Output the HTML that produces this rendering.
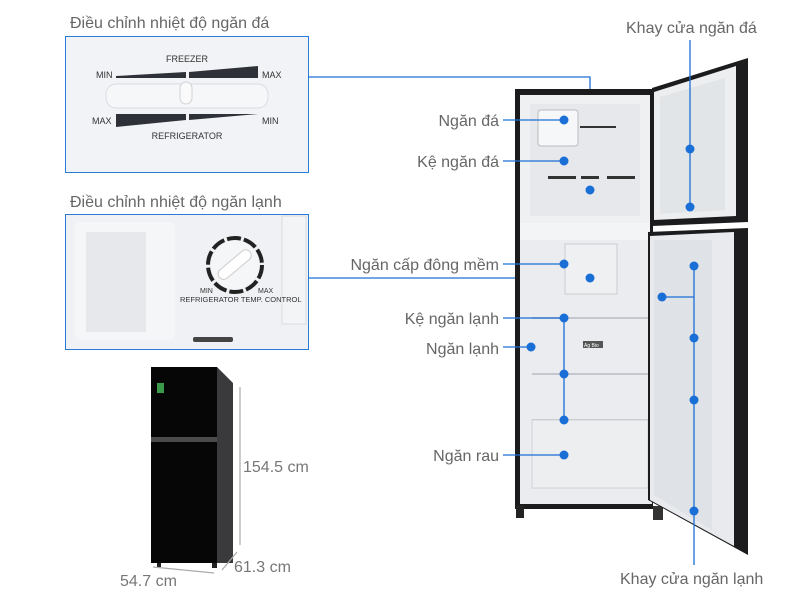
<!DOCTYPE html>
<html><head><meta charset="utf-8"><style>
html,body{margin:0;padding:0;background:#fff;width:800px;height:600px;overflow:hidden}
svg text{font-family:"Liberation Sans","Noto Sans CJK SC",sans-serif}
</style></head><body>
<svg width="800" height="600" viewBox="0 0 800 600" xmlns="http://www.w3.org/2000/svg">
<!-- Panel 1 -->
<text x="70" y="28" font-size="16" fill="#666">Điều chỉnh nhiệt độ ngăn đá</text>
<rect x="65.5" y="36.5" width="243" height="136" fill="#f1f3f6" stroke="#2a7bd6"/>
<text x="187" y="62" font-size="9" fill="#333" text-anchor="middle">FREEZER</text>
<text x="96" y="78" font-size="9" fill="#333">MIN</text>
<text x="262" y="78" font-size="9" fill="#333">MAX</text>
<polygon points="116,76 186,72 186,78 116,78" fill="#2e3138"/>
<polygon points="189,72 258,66 258,78 189,78" fill="#2e3138"/>
<rect x="106" y="84" width="162" height="24" rx="10" fill="#f6f7f8" stroke="#d8dbe0"/>
<rect x="180" y="82" width="12" height="22" rx="6" fill="#fafafa" stroke="#cfd2d6"/>
<text x="92" y="124" font-size="9" fill="#333">MAX</text>
<text x="262" y="124" font-size="9" fill="#333">MIN</text>
<polygon points="116,114 186,114 186,120 116,127" fill="#2e3138"/>
<polygon points="189,114 258,114 189,120" fill="#2e3138"/>
<text x="187" y="139" font-size="9" fill="#333" text-anchor="middle">REFRIGERATOR</text>
<!-- Panel 2 -->
<text x="70" y="207" font-size="16" fill="#666">Điều chỉnh nhiệt độ ngăn lạnh</text>
<rect x="65.5" y="214.5" width="243" height="135" fill="#eff1f4" stroke="#2a7bd6"/>
<rect x="75" y="222" width="100" height="118" rx="6" fill="#f5f6f7"/>
<rect x="86" y="232" width="60" height="100" fill="#e6e8eb"/>
<rect x="193" y="337" width="40" height="5" rx="2" fill="#444"/>
<rect x="282" y="216" width="24" height="108" fill="#f3f4f6" stroke="#d8dbe0"/>
<circle cx="235" cy="265" r="27" fill="none" stroke="#222" stroke-width="4" stroke-dasharray="14 3"/>
<circle cx="235" cy="265" r="24" fill="#f5f6f7"/>
<rect x="215" y="259" width="40" height="11" rx="5.5" fill="#fff" stroke="#ccc" transform="rotate(-40 235 265)"/>
<text x="200" y="293" font-size="7" fill="#333">MIN</text>
<text x="258" y="293" font-size="7" fill="#333">MAX</text>
<text x="180" y="302" font-size="7.5" fill="#333">REFRIGERATOR  TEMP. CONTROL</text>
<!-- Connectors from panels -->
<g stroke="#1a6fd6" stroke-width="1.3" fill="none">
<polyline points="308,77 590,77 590,190"/>
<polyline points="308,278 590,278"/>
</g>
<!-- Big fridge -->
<rect x="515" y="89" width="138" height="420" fill="#1b1b1d"/>
<rect x="516" y="505" width="8" height="13" fill="#222"/>
<rect x="653" y="506" width="10" height="14" fill="#333"/>
<rect x="520" y="95" width="130" height="128" fill="#eef0f2"/>
<rect x="530" y="104" width="110" height="112" fill="#e6e8eb"/>
<rect x="538" y="110" width="40" height="36" rx="3" fill="#f6f7f8" stroke="#bbb"/>
<g fill="#333"><rect x="548" y="176" width="28" height="3"/><rect x="581" y="176" width="18" height="3"/><rect x="607" y="176" width="28" height="3"/><rect x="580" y="126" width="36" height="2"/></g>
<rect x="520" y="223" width="130" height="17" fill="#f3f4f5"/>
<rect x="520" y="240" width="132" height="264" fill="#eaecef"/>
<rect x="565" y="244" width="52" height="50" fill="#eef0f2" stroke="#c9ccd1"/>
<g stroke="#c4c8ce" stroke-width="2"><line x1="532" y1="318" x2="648" y2="318"/><line x1="532" y1="374" x2="648" y2="374"/><line x1="532" y1="420" x2="648" y2="420"/></g>
<rect x="532" y="420" width="116" height="68" fill="#eceef0" stroke="#cfd2d6"/>
<rect x="583" y="341" width="20" height="7" fill="#555"/>
<text x="584" y="347" font-size="5" fill="#fff">Ag Bio</text>
<!-- freezer door -->
<polygon points="652,88 748,58 748,222 652,226" fill="#1c1c1e"/>
<polygon points="654,92 736,66 736,216 654,220" fill="#eceef0"/>
<polygon points="660,97 725,78 725,210 660,214" fill="#e2e5e8"/>
<!-- fridge door -->
<polygon points="648,232 748,228 748,555 648,500" fill="#1c1c1e"/>
<polygon points="650,236 734,232 734,546 650,500" fill="#e8eaed"/>
<polygon points="654,240 712,240 712,530 654,495" fill="#dfe2e6"/>
<!-- callouts -->
<g stroke="#1a6fd6" stroke-width="1.3" fill="none">
<line x1="503" y1="120" x2="564" y2="120"/>
<line x1="503" y1="161" x2="564" y2="161"/>
<line x1="503" y1="264" x2="564" y2="264"/>
<polyline points="503,318 564,318 564,420"/>
<line x1="503" y1="347" x2="531" y2="347"/>
<line x1="503" y1="455" x2="564" y2="455"/>
<line x1="690" y1="40" x2="690" y2="207"/>
<line x1="694" y1="266" x2="694" y2="565"/>
<line x1="662" y1="297" x2="694" y2="297"/>
</g>
<g fill="#1a6fd6">
<circle cx="564" cy="120" r="4.5"/><circle cx="564" cy="161" r="4.5"/><circle cx="590" cy="190" r="4.5"/>
<circle cx="690" cy="149" r="4.5"/><circle cx="690" cy="207" r="4.5"/>
<circle cx="564" cy="264" r="4.5"/><circle cx="590" cy="278" r="4.5"/>
<circle cx="564" cy="318" r="4.5"/><circle cx="564" cy="374" r="4.5"/><circle cx="564" cy="420" r="4.5"/>
<circle cx="531" cy="347" r="4.5"/><circle cx="564" cy="455" r="4.5"/>
<circle cx="694" cy="266" r="4.5"/><circle cx="662" cy="297" r="4.5"/><circle cx="694" cy="338" r="4.5"/><circle cx="694" cy="400" r="4.5"/><circle cx="694" cy="511" r="4.5"/>
</g>
<g font-size="16" fill="#666" text-anchor="end">
<text x="499" y="126">Ngăn đá</text>
<text x="499" y="167">Kệ ngăn đá</text>
<text x="499" y="270">Ngăn cấp đông mềm</text>
<text x="499" y="324">Kệ ngăn lạnh</text>
<text x="499" y="354">Ngăn lạnh</text>
<text x="499" y="461">Ngăn rau</text>
</g>
<text x="626" y="33" font-size="16" fill="#666">Khay cửa ngăn đá</text>
<text x="620" y="584" font-size="16" fill="#666">Khay cửa ngăn lạnh</text>
<!-- small fridge -->
<polygon points="217,367 233,383 233,563 217,563" fill="#3a3a3c"/>
<rect x="151" y="367" width="66" height="196" fill="#060606"/>
<rect x="151" y="437" width="66" height="5" fill="#4a4a4c"/>
<rect x="157" y="383" width="7" height="10" fill="#3b9a4a"/>
<rect x="157" y="563" width="4" height="4" fill="#222"/><rect x="212" y="563" width="5" height="5" fill="#222"/>
<g stroke="#aaa" stroke-width="1.2" fill="none">
<line x1="240" y1="387" x2="240" y2="545"/>
<line x1="153" y1="567" x2="214" y2="573"/>
<line x1="222" y1="570" x2="237" y2="552"/>
</g>
<text x="243" y="472" font-size="16" fill="#777">154.5 cm</text>
<text x="234" y="572" font-size="16" fill="#777">61.3 cm</text>
<text x="120" y="586" font-size="16" fill="#777">54.7 cm</text>
</svg>
</body></html>
